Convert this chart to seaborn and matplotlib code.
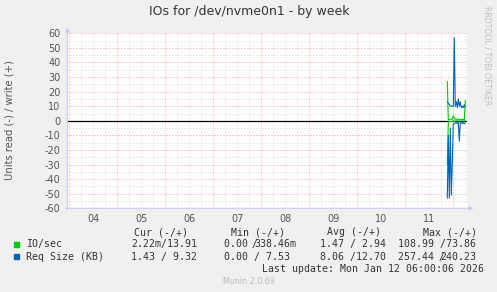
import matplotlib
matplotlib.use("Agg")
import matplotlib.pyplot as plt
import seaborn as sns
import pandas as pd

# ---------------- data ----------------
day_labels = ["04", "05", "06", "07", "08", "09", "10", "11"]
# hours since Jan 04 00:00
hours = [189.0, 189.5, 190.0, 190.5, 191.0, 191.5, 192.0, 192.5, 193.0, 193.5,
         194.0, 194.5, 195.0, 195.5, 196.0, 196.5, 197.0, 197.5, 198.0]
io_write = [27.0, 0.5, 1.0, 0.8, 1.2, 1.0, 3.4, 2.0, 1.0, 1.5,
            0.8, 1.0, 1.2, 0.8, 1.0, 0.9, 1.1, 0.8, 13.91]
io_read = [30.0, 1.0, 0.5, 0.5, 0.4, 0.3, 0.3, 0.2, 0.2, 0.1,
           0.1, 0.1, 0.1, 0.1, 0.1, 0.1, 0.1, 0.1, 0.002]
req_write = [13.0, 12.0, 11.0, 10.5, 10.0, 10.0, 10.0, 57.0, 10.0, 13.0,
             9.0, 15.0, 10.0, 13.0, 9.0, 10.0, 9.0, 11.0, 9.32]
req_read = [53.0, 10.0, 53.0, 5.0, 51.0, 29.0, 2.0, 2.0, 1.5, 1.0,
            2.0, 1.0, 14.0, 1.0, 1.0, 2.0, 1.0, 2.0, 1.43]

legend_names = ["IO/sec", "Req Size (KB)"]
legend_cur = ["2.22m/13.91", "1.43 / 9.32"]
legend_min = [("0.00 ", "338.46m"), ("0.00 / 7.53", None)]
legend_avg = ["1.47 / 2.94", "8.06 /12.70"]
legend_max = [("108.99 /73.86", None), ("257.44 ", "240.23")]
series_colors = ["#00CC00", "#0066B3"]

W, H = 497, 292
sns.set_theme(style="white")
plt.rcParams["font.family"] = ["DejaVu Sans"]

fig = plt.figure(figsize=(W / 100, H / 100), dpi=100, facecolor="#F0F0F0")
L, R, T, B = 67.3, 467.0, 33.3, 208.3
ax = fig.add_axes([L / W, 1 - B / H, (R - L) / W, (B - T) / H])
ax.set_facecolor("white")
for s in ax.spines.values():
    s.set_visible(False)

xmin, xmax = -1.0, 198.85
ax.set_xlim(xmin, xmax)
ax.set_ylim(-60, 60)

# grid
grid_red = "#F2A0A0"
grid_gray = "#D8D8D8"
for h in range(0, 199, 6):
    if h % 24 == 0:
        continue
    ax.axvline(h, color=grid_gray, lw=0.72, ls=(0, (1, 2)), zorder=0)
for v in range(-55, 60, 10):
    ax.axhline(v, color=grid_gray, lw=0.72, ls=(0, (1, 2)), zorder=0)
for h in range(0, 199, 24):
    ax.axvline(h, color=grid_red, lw=0.72, ls=(0, (1, 2)), zorder=0.5)
for v in range(-60, 61, 10):
    ax.axhline(v, color=grid_red, lw=0.72, ls=(0, (1, 2)), zorder=0.5)

ax.axhline(0, color="black", lw=0.9, zorder=1)

df = pd.DataFrame({"hours": hours, "io_w": io_write, "io_r": [-v for v in io_read],
                   "rq_w": req_write, "rq_r": [-v for v in req_read]})
lw = 0.8
sns.lineplot(data=df, x="hours", y="io_r", color=series_colors[0], lw=lw, ax=ax, zorder=2)
sns.lineplot(data=df, x="hours", y="io_w", color=series_colors[0], lw=lw, ax=ax, zorder=2)
sns.lineplot(data=df, x="hours", y="rq_r", color=series_colors[1], lw=lw, ax=ax, zorder=3)
sns.lineplot(data=df, x="hours", y="rq_w", color=series_colors[1], lw=lw, ax=ax, zorder=3)

tick_color = "#555555"
ax.set_xticks([12 + 24 * i for i in range(len(day_labels))])
ax.set_xticklabels(day_labels)
ax.set_yticks(list(range(-60, 61, 10)))
ax.set_yticklabels([str(v) for v in range(-60, 61, 10)])
ax.tick_params(axis="both", length=0, labelsize=7, colors=tick_color)
ax.tick_params(axis="x", pad=4)
ax.tick_params(axis="y", pad=5)
ax.set_xlabel("")
ax.set_ylabel("")

# axis lines with arrows
axis_col = "#C8C8FF"
ax.annotate("", xy=(1 + 6.5 / (R - L), 0), xytext=(-1.5 / (R - L), 0), xycoords="axes fraction",
            arrowprops=dict(arrowstyle="-|>", color=axis_col, lw=0.8, mutation_scale=6,
                            shrinkA=0, shrinkB=0), annotation_clip=False, zorder=5)
ax.annotate("", xy=(0, 1 + 6 / (B - T)), xytext=(0, -1.5 / (B - T)), xycoords="axes fraction",
            arrowprops=dict(arrowstyle="-|>", color=axis_col, lw=0.8, mutation_scale=6,
                            shrinkA=0, shrinkB=0), annotation_clip=False, zorder=5)

def ftxt(x, y, s, **kw):
    fig.text(x / W, 1 - y / H, s, **kw)

ftxt(249, 12, "IOs for /dev/nvme0n1 - by week", ha="center", va="center",
     fontsize=9, color="#333333")
ftxt(10, 120, "Units read (-) / write (+)", ha="center", va="center", rotation=90,
     fontsize=7.2, color="#555555")
ftxt(487, 56, "RRDTOOL / TOBI OETIKER", ha="center", va="center", rotation=270,
     fontsize=5.6, color="#C0C0C0")

mono = dict(family="DejaVu Sans Mono", fontsize=7.15, color="#333333", va="center", ha="left")
cw = 5.97
y_head, y_r1, y_r2 = 232.3, 244.3, 256.7
ftxt(134.3, y_head, "Cur (-/+)", **mono)
ftxt(230.7, y_head, "Min (-/+)", **mono)
ftxt(327.0, y_head, "Avg (-/+)", **mono)
ftxt(422.7, y_head, "Max (-/+)", **mono)

rows_y = [y_r1, y_r2]
for i in range(2):
    yy = rows_y[i]
    fig.patches.append(plt.Rectangle(((14) / W, 1 - (yy + 2.7) / H), 5.4 / W, 5.4 / H,
                                     transform=fig.transFigure, color=series_colors[i]))
    ftxt(26.3, yy, legend_names[i], **mono)
    ftxt(131.0, yy, legend_cur[i], **mono)
    ftxt(320.0, yy, legend_avg[i], **mono)
    for (x0, pair) in ((224.0, legend_min[i]), (398.3, legend_max[i])):
        a, b = pair
        if b is None:
            ftxt(x0, yy, a, **mono)
        else:
            ftxt(x0, yy, a, **mono)
            ftxt(x0 + cw * len(a) - cw * 0.35, yy, "/", **mono)
            ftxt(x0 + cw * len(a), yy, b, **mono)

ftxt(261.7, 269, "Last update: Mon Jan 12 06:00:06 2026", **mono)
ftxt(249, 281, "Munin 2.0.69", ha="center", va="center", fontsize=5.8, color="#BBBBBB")

fig.savefig("out.png", dpi=100, facecolor=fig.get_facecolor())
